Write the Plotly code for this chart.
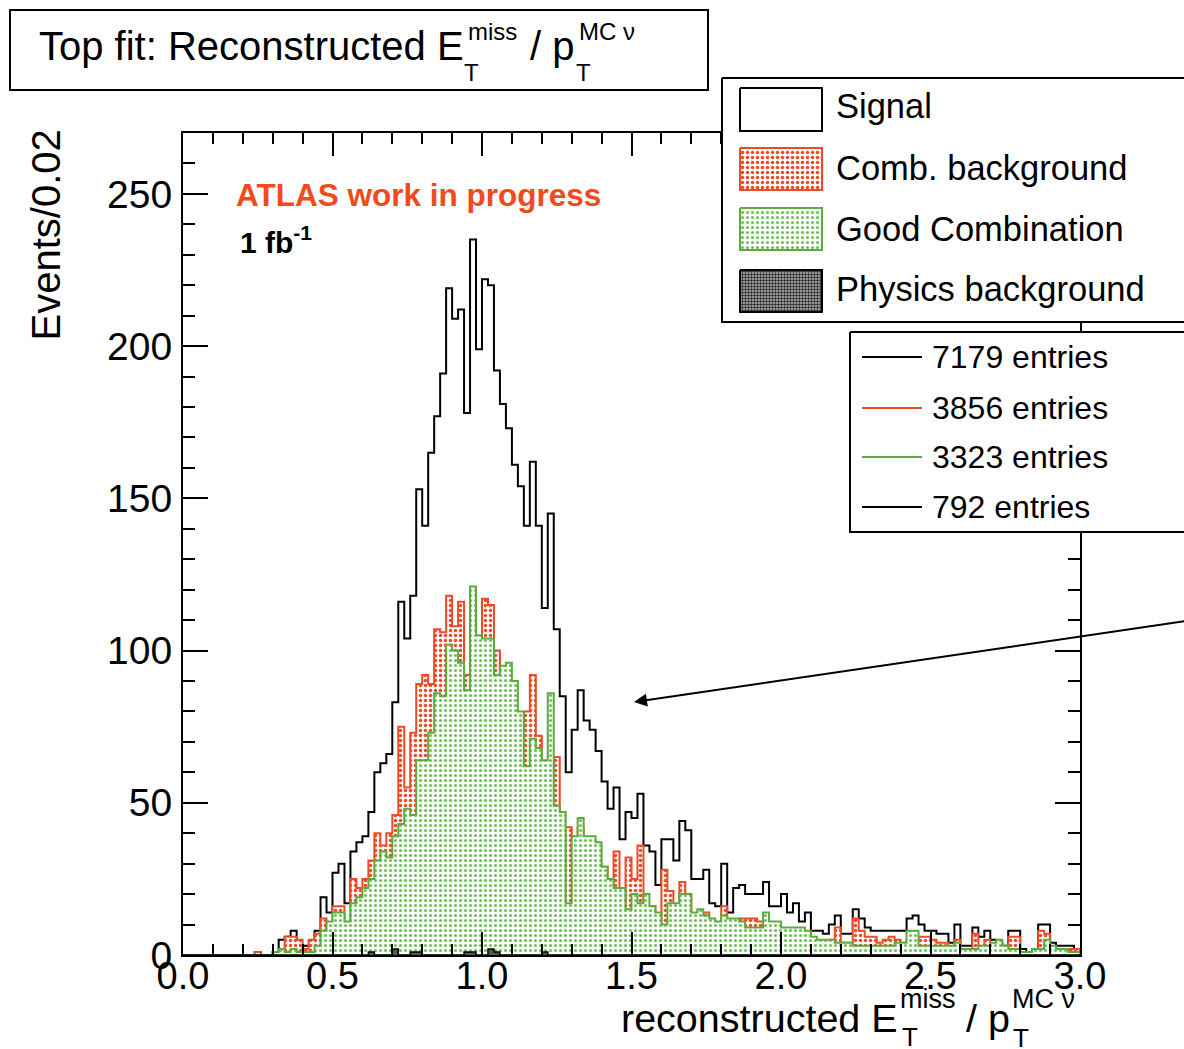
import numpy as np
import plotly.graph_objects as go

# ---------------- data ----------------
BIN_WIDTH = 0.02
N_BINS = 150
edges = np.round(np.arange(N_BINS + 1) * BIN_WIDTH, 4)

signal = [0,0,0,0,0,0,0,0,0,0, 0,0,1,0,0,1,5,6,8,3,
          3,3,8,19,14,27,30,17,34,37, 39,47,60,63,66,83,116,104,118,153,
          141,165,177,191,219,209,212,178,235,199, 222,220,192,181,173,161,154,141,162,141,
          114,145,107,85,60,74,87,77,74,67, 57,48,55,38,47,45,53,36,34,23,
          38,38,31,44,41,25,25,28,17,16, 30,14,22,23,20,20,20,24,16,16,
          20,14,17,11,14,8,8,7,10,13, 7,7,15,12,9,8,8,8,8,8,
          8,12,13,10,8,8,7,7,4,10, 3,3,9,6,8,5,4,3,8,8,
          2,1,2,10,10,4,3,3,3,2]

comb = [0,0,0,0,0,0,0,0,0,0, 0,0,1,0,0,1,2,6,6,5,
        2,5,7,12,8,16,16,6,25,22, 25,31,40,36,40,46,75,55,73,89,
        92,89,107,106,118,108,116,92,114,94, 117,115,100,86,80,72,74,80,92,72,
        52,60,65,42,42,35,42,38,36,30, 29,22,34,16,32,25,36,14,16,9,
        28,21,15,24,20,10,12,14,5,6, 16,3,10,12,12,12,11,11,5,5,
        7,5,8,3,7,3,3,2,5,9, 4,4,12,8,6,6,4,5,6,5,
        4,5,5,6,6,5,4,4,2,5, 1,1,7,3,5,2,1,2,6,6,
        0,0,1,8,7,2,2,1,2,2]

good = [0,0,0,0,0,0,0,0,0,0, 0,0,0,0,0,1,2,1,2,1,
        1,1,3,8,11,14,14,11,17,19, 22,25,31,34,32,39,43,48,46,64,
        64,73,86,85,102,100,96,87,121,105, 104,104,92,95,96,90,80,62,71,68,
        64,86,49,47,17,39,45,39,39,37, 29,25,22,22,15,20,17,20,16,14,
        10,17,17,20,20,14,15,13,12,11, 13,12,12,11,9,9,9,14,11,11,
        9,9,9,9,8,6,5,5,5,4, 4,4,3,3,3,3,3,3,3,4,
        4,8,8,3,3,3,3,3,3,4, 2,2,2,3,3,4,5,3,2,2,
        1,1,2,2,5,3,2,2,1,1]

physics = [0]*30 + [0,1,0,0,0,2,0,0,1,1, 0,0,0,0,0,0,0,1,1,0,
                    0,2,1,0,0,0,0,0,0,0, 1,0,0,0,0,0,0,0,0,0] + [0]*80

legend_labels = ["Signal", "Comb. background", "Good Combination", "Physics background"]
entry_labels = ["7179 entries", "3856 entries", "3323 entries", "792 entries"]

# ---------------- styling ----------------
W, H = 1184, 1049
X0, X1, Y0, Y1 = 183, 1080, 133, 955          # plot frame in pixels
RED = "#ee4a25"
GREEN = "#5aad3c"
GREEN_DOT = "#72bf5c"
ATLAS_RED = "#f24a1c"
FONT = "Liberation Sans, Arial, Helvetica, sans-serif"

RED_PAT = dict(shape=".", fgcolor=RED, bgcolor="white", size=5, solidity=0.38, fillmode="replace")
GREEN_PAT = dict(shape=".", fgcolor=GREEN_DOT, bgcolor="white", size=5, solidity=0.32, fillmode="replace")


def step_xy(vals):
    x = np.concatenate([[edges[0]], edges])
    y = np.concatenate([[0], np.asarray(vals, float), [0]])
    return x, y


fig = go.Figure()

# signal (black outline)
x, y = step_xy(signal)
fig.add_trace(go.Scatter(x=x, y=y, mode="lines", line=dict(shape="hv", color="black", width=2),
                         xaxis="x", yaxis="y", hoverinfo="skip"))
# combinatorial background (red dots)
x, y = step_xy(comb)
fig.add_trace(go.Scatter(x=x, y=y, mode="lines", line=dict(shape="hv", color=RED, width=2),
                         fill="tozeroy", fillcolor="white", fillpattern=RED_PAT,
                         xaxis="x", yaxis="y", hoverinfo="skip"))
# good combination (green dots)
x, y = step_xy(good)
fig.add_trace(go.Scatter(x=x, y=y, mode="lines", line=dict(shape="hv", color=GREEN, width=2),
                         fill="tozeroy", fillcolor="white", fillpattern=GREEN_PAT,
                         xaxis="x", yaxis="y", hoverinfo="skip"))
# physics background
x, y = step_xy(physics)
fig.add_trace(go.Scatter(x=x, y=y, mode="lines", line=dict(shape="hv", color="black", width=1.5),
                         fill="tozeroy", fillcolor="#555",
                         xaxis="x", yaxis="y", hoverinfo="skip"))

# ---------------- overlay pixel subplot for legend boxes ----------------
def box(x0, y0, x1, y1, line_color="black", lw=2, fill="white", pattern=None):
    tr = go.Scatter(x=[x0, x1, x1, x0, x0], y=[y0, y0, y1, y1, y0], mode="lines",
                    line=dict(color=line_color, width=lw), fill="toself", fillcolor=fill,
                    xaxis="x2", yaxis="y2", hoverinfo="skip")
    if pattern is not None:
        tr.fillpattern = pattern
    fig.add_trace(tr)

# legend box 1
box(722, 78, 1200, 322)
box(740, 88, 822, 131)
box(740, 148, 822, 190, line_color=RED, pattern=RED_PAT)
box(740, 208, 822, 250, line_color=GREEN, pattern=GREEN_PAT)
box(740, 270, 822, 312, line_color="black",
    pattern=dict(shape=".", fgcolor="#222", bgcolor="#bbb", size=3, solidity=0.5, fillmode="replace"))
# legend box 2
box(850, 332, 1200, 532)
line_cols = ["black", RED, GREEN, "black"]
line_y = [357, 408, 457, 507]
for c, yy in zip(line_cols, line_y):
    fig.add_trace(go.Scatter(x=[862, 922], y=[yy, yy], mode="lines", line=dict(color=c, width=2),
                             xaxis="x2", yaxis="y2", hoverinfo="skip"))

ann = []
def text(xp, yp, s, size, color="black", xanchor="left", yanchor="middle", bold=False, angle=0):
    if bold:
        s = "<b>" + s + "</b>"
    ann.append(dict(x=xp, y=yp, xref="x2", yref="y2", text=s, showarrow=False,
                    xanchor=xanchor, yanchor=yanchor, textangle=angle,
                    font=dict(family=FONT, size=size, color=color)))

legend_y = [106, 168, 229, 289]
for lab, yy in zip(legend_labels, legend_y):
    text(834, yy, lab, 34.5)
for lab, yy in zip(entry_labels, line_y):
    text(930, yy, lab, 32)

# title box
shapes = [dict(type="rect", xref="x2", yref="y2", x0=10, y0=10, x1=708, y1=90,
               line=dict(color="black", width=2), fillcolor="white", layer="below")]
text(37, 46, "Top fit: Reconstructed E", 40)
text(466, 31, "miss", 24)
text(462, 72, "T", 24)
text(528, 46, "/ p", 40)
text(577, 31, "MC ν", 24)
text(574, 72, "T", 24)

# x-axis title
text(619, 1018, "reconstructed E", 39.5)
text(898, 999, "miss", 27)
text(900, 1037, "T", 26)
text(964, 1018, "/ p", 39.5)
text(1010, 999, "MC ν", 27)
text(1011, 1038, "T", 26)

# y-axis title
text(45, 128, "Events/0.02", 40, xanchor="center", yanchor="top", angle=-90)

# ATLAS labels
text(234, 195, "ATLAS work in progress", 31.5, color=ATLAS_RED, bold=True)
text(238, 240, "1 fb<sup>-1</sup>", 30, bold=True)

# arrow
ann.append(dict(x=634, y=702, xref="x2", yref="y2", ax=1200, ay=619, axref="x2", ayref="y2",
                showarrow=True, arrowhead=2, arrowsize=1.3, arrowwidth=2, arrowcolor="black", text=""))

fig.update_layout(
    template="none",
    width=W, height=H, margin=dict(l=0, r=0, t=0, b=0, pad=0, autoexpand=False),
    paper_bgcolor="white", plot_bgcolor="rgba(0,0,0,0)", showlegend=False,
    font=dict(family=FONT, color="black"),
    xaxis=dict(domain=[X0 / W, X1 / W], range=[0, 3.0], dtick=0.5, tick0=0, tickformat=".1f",
               ticks="inside", ticklen=23, tickwidth=1.5, tickcolor="black",
               minor=dict(ticks="inside", ticklen=11, dtick=0.1, tickcolor="black", tickwidth=1.5),
               showline=True, linecolor="black", linewidth=2, mirror="ticks",
               showgrid=False, zeroline=False, tickfont=dict(size=38, family=FONT),
               ticklabelstandoff=-14, anchor="y", automargin=False, layer="above traces"),
    yaxis=dict(domain=[(H - Y1) / H, (H - Y0) / H], range=[0, 270], dtick=50, tick0=0,
               ticks="inside", ticklen=25, tickwidth=1.5, tickcolor="black",
               minor=dict(ticks="inside", ticklen=12, dtick=10, tickcolor="black", tickwidth=1.5),
               showline=True, linecolor="black", linewidth=2, mirror="ticks",
               showgrid=False, zeroline=False, tickfont=dict(size=39, family=FONT),
               ticklabelstandoff=1, anchor="x", automargin=False, layer="above traces"),
    xaxis2=dict(domain=[0, 1], range=[0, W], visible=False, anchor="y2", fixedrange=True,
                automargin=False, showgrid=False, zeroline=False),
    yaxis2=dict(domain=[0, 1], range=[H, 0], visible=False, anchor="x2", fixedrange=True,
                automargin=False, showgrid=False, zeroline=False),
    annotations=ann, shapes=shapes,
)

fig.write_html("out.html")
